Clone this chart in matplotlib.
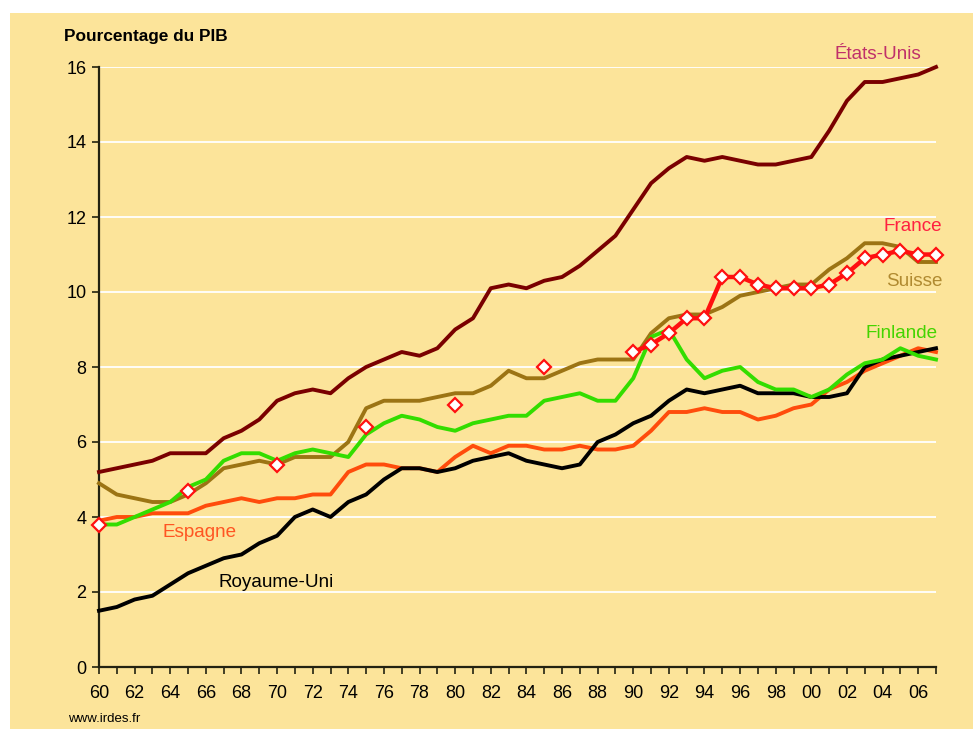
import numpy as np
import matplotlib
matplotlib.use('Agg')
import matplotlib.pyplot as plt
from matplotlib.patches import Rectangle

plt.rcParams['font.family'] = ['Liberation Sans', 'DejaVu Sans']

years = list(range(1960, 2008))

etats_unis = [5.2, 5.3, 5.4, 5.5, 5.7, 5.7, 5.7, 6.1, 6.3, 6.6,
              7.1, 7.3, 7.4, 7.3, 7.7, 8.0, 8.2, 8.4, 8.3, 8.5,
              9.0, 9.3, 10.1, 10.2, 10.1, 10.3, 10.4, 10.7, 11.1, 11.5,
              12.2, 12.9, 13.3, 13.6, 13.5, 13.6, 13.5, 13.4, 13.4, 13.5,
              13.6, 14.3, 15.1, 15.6, 15.6, 15.7, 15.8, 16.0]

suisse = [4.9, 4.6, 4.5, 4.4, 4.4, 4.6, 4.9, 5.3, 5.4, 5.5,
          5.4, 5.6, 5.6, 5.6, 6.0, 6.9, 7.1, 7.1, 7.1, 7.2,
          7.3, 7.3, 7.5, 7.9, 7.7, 7.7, 7.9, 8.1, 8.2, 8.2,
          8.2, 8.9, 9.3, 9.4, 9.4, 9.6, 9.9, 10.0, 10.1, 10.2,
          10.2, 10.6, 10.9, 11.3, 11.3, 11.2, 10.8, 10.8]

finlande = [3.8, 3.8, 4.0, 4.2, 4.4, 4.8, 5.0, 5.5, 5.7, 5.7,
            5.5, 5.7, 5.8, 5.7, 5.6, 6.2, 6.5, 6.7, 6.6, 6.4,
            6.3, 6.5, 6.6, 6.7, 6.7, 7.1, 7.2, 7.3, 7.1, 7.1,
            7.7, 8.8, 9.0, 8.2, 7.7, 7.9, 8.0, 7.6, 7.4, 7.4,
            7.2, 7.4, 7.8, 8.1, 8.2, 8.5, 8.3, 8.2]

espagne = [3.9, 4.0, 4.0, 4.1, 4.1, 4.1, 4.3, 4.4, 4.5, 4.4,
           4.5, 4.5, 4.6, 4.6, 5.2, 5.4, 5.4, 5.3, 5.3, 5.2,
           5.6, 5.9, 5.7, 5.9, 5.9, 5.8, 5.8, 5.9, 5.8, 5.8,
           5.9, 6.3, 6.8, 6.8, 6.9, 6.8, 6.8, 6.6, 6.7, 6.9,
           7.0, 7.4, 7.6, 7.9, 8.1, 8.3, 8.5, 8.4]

royaume_uni = [1.5, 1.6, 1.8, 1.9, 2.2, 2.5, 2.7, 2.9, 3.0, 3.3,
               3.5, 4.0, 4.2, 4.0, 4.4, 4.6, 5.0, 5.3, 5.3, 5.2,
               5.3, 5.5, 5.6, 5.7, 5.5, 5.4, 5.3, 5.4, 6.0, 6.2,
               6.5, 6.7, 7.1, 7.4, 7.3, 7.4, 7.5, 7.3, 7.3, 7.3,
               7.2, 7.2, 7.3, 8.0, 8.2, 8.3, 8.4, 8.5]

france_years = [1960, 1965, 1970, 1975, 1980, 1985,
                1990, 1991, 1992, 1993, 1994, 1995, 1996, 1997, 1998, 1999,
                2000, 2001, 2002, 2003, 2004, 2005, 2006, 2007]
france = [3.8, 4.7, 5.4, 6.4, 7.0, 8.0,
          8.4, 8.6, 8.9, 9.3, 9.3, 10.4, 10.4, 10.2, 10.1, 10.1,
          10.1, 10.2, 10.5, 10.9, 11.0, 11.1, 11.0, 11.0]

bg = '#fce49a'

fig = plt.figure(figsize=(9.73, 7.29), dpi=100)
fig.patches.append(Rectangle((10 / 973, 0), 1, 1 - 13 / 729, transform=fig.transFigure,
                             facecolor=bg, edgecolor='none', zorder=-10))

ax = fig.add_axes([99 / 973, 1 - 667 / 729, (936 - 99) / 973, (667 - 67) / 729])
ax.set_facecolor('none')
ax.set_zorder(5)

lw = 2.8
ax.plot(years, etats_unis, color='#7a0000', lw=lw, clip_on=False, zorder=3)
ax.plot(years, suisse, color='#9c7414', lw=lw, clip_on=False, zorder=3)
ax.plot(years, finlande, color='#33dd00', lw=lw, clip_on=False, zorder=4)
ax.plot(years, espagne, color='#ff4c0c', lw=lw, clip_on=False, zorder=3)
ax.plot(years, royaume_uni, color='black', lw=lw, clip_on=False, zorder=3)

# France: isolated points every 5 years, then a line from 1990
fy = np.array(france_years)
fv = np.array(france)
cont = fy >= 1990
ax.plot(fy[cont], fv[cont], color='#ff1010', lw=3.2, clip_on=False, zorder=5)
ax.plot(fy, fv, ls='none', marker='D', ms=7.5, mfc='white', mec='#ff1010',
        mew=1.6, clip_on=False, zorder=6)

ax.set_xlim(1960, 2007)
ax.set_ylim(0, 16)
ax.set_yticks(range(0, 17, 2))
ax.set_xticks(years)
ax.set_xticklabels([str(y)[2:] if y % 2 == 0 else '' for y in years])
ax.yaxis.grid(True, color='white', lw=1.3)
ax.set_axisbelow(True)
for s in ['top', 'right']:
    ax.spines[s].set_visible(False)
for s in ['left', 'bottom']:
    ax.spines[s].set_linewidth(1.6)
    ax.spines[s].set_color('#222211')
ax.tick_params(axis='x', length=5, width=1.2, labelsize=13, pad=8, color='#222211')
ax.tick_params(axis='y', length=5, width=1.2, labelsize=13, pad=4, color='#222211')

fig.text(64 / 973, 1 - 36 / 729, 'Pourcentage du PIB', fontsize=12.4, fontweight='bold',
         va='center', ha='left')
fig.text(68 / 973, 1 - 719 / 729, 'www.irdes.fr', fontsize=9.5, va='center', ha='left')

fs = 13.6
ax.text(2003.76, 16.33, 'États-Unis', color='#c0306a', fontsize=fs, ha='center', va='center')
ax.text(2007.35, 11.74, 'France', color='#ff2040', fontsize=fs, ha='right', va='center')
ax.text(2007.35, 10.28, 'Suisse', color='#b08a30', fontsize=fs, ha='right', va='center')
ax.text(2007.08, 8.89, 'Finlande', color='#44d400', fontsize=fs, ha='right', va='center')
ax.text(1963.54, 3.59, 'Espagne', color='#ff5522', fontsize=fs, ha='left', va='center')
ax.text(1966.7, 2.25, 'Royaume-Uni', color='black', fontsize=fs, ha='left', va='center')

fig.savefig('out.png', dpi=100)
